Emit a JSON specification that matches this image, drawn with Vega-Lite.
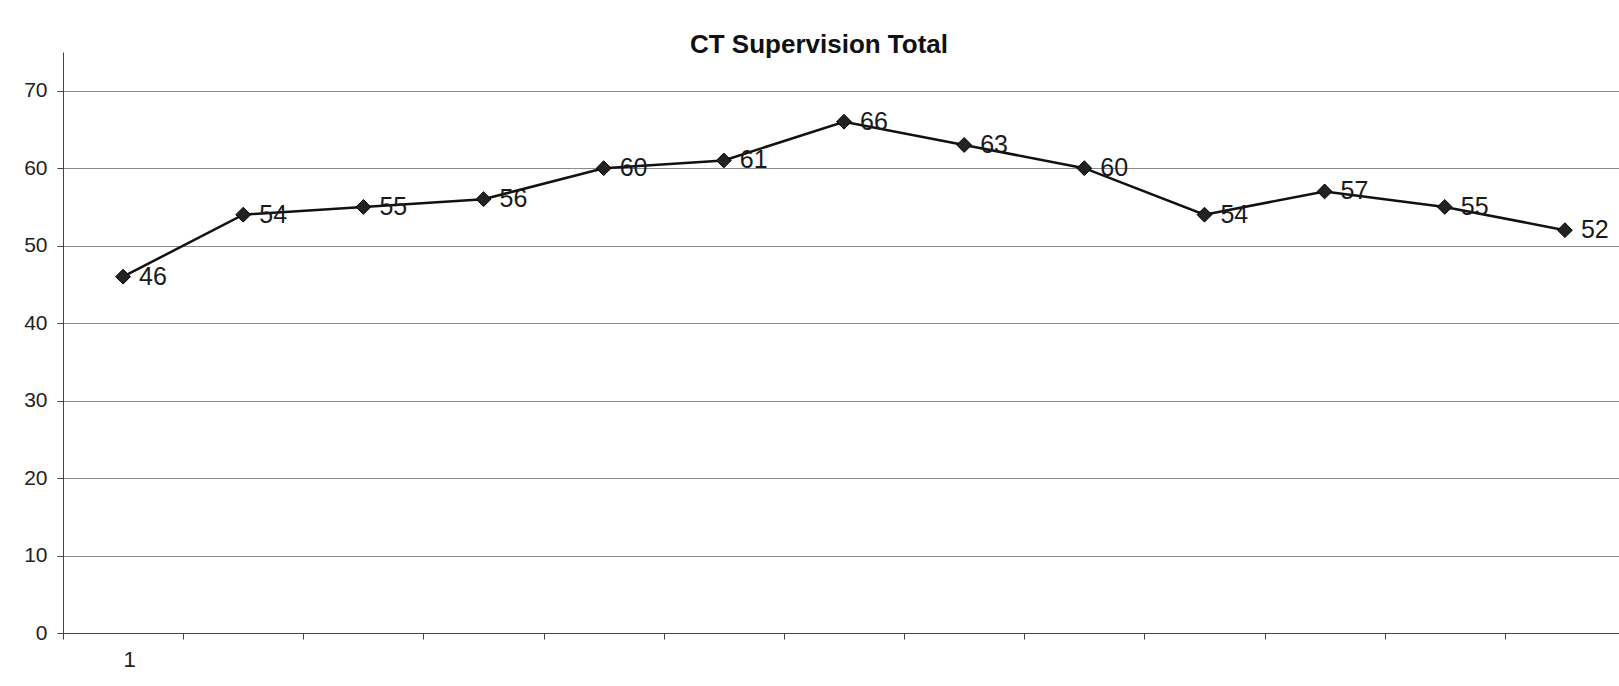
{
  "$schema": "https://vega.github.io/schema/vega-lite/v6.json",
  "width": 1562,
  "height": 581,
  "autosize": "none",
  "padding": {"left": 63, "top": 52, "right": 0, "bottom": 53},
  "background": "white",
  "title": {"text": "CT Supervision Total", "fontSize": 26, "font": "Liberation Sans", "fontWeight": "bold", "color": "#111", "anchor": "middle", "dx": -25, "offset": -6},
  "config": {"view": {"stroke": null}, "font": "Liberation Sans"},
  "data": {"values": [
    {"pt": 1, "value": 46},
    {"pt": 2, "value": 54},
    {"pt": 3, "value": 55},
    {"pt": 4, "value": 56},
    {"pt": 5, "value": 60},
    {"pt": 6, "value": 61},
    {"pt": 7, "value": 66},
    {"pt": 8, "value": 63},
    {"pt": 9, "value": 60},
    {"pt": 10, "value": 54},
    {"pt": 11, "value": 57},
    {"pt": 12, "value": 55},
    {"pt": 13, "value": 52}
  ]},
  "encoding": {
    "x": {"field": "pt", "type": "quantitative",
      "scale": {"domain": [0.5, 13.5], "nice": false, "zero": false},
      "axis": {"values": [0.5,1.5,2.5,3.5,4.5,5.5,6.5,7.5,8.5,9.5,10.5,11.5,12.5,13.5],
        "labelExpr": "datum.value == 0.5 ? '1' : ''", "labelOffset": 60, "grid": false, "title": null,
        "tickSize": 6, "tickColor": "#444", "domainColor": "#444", "labelFontSize": 22, "labelPadding": 10, "labelColor": "#222", "labelFont": "Liberation Sans"}},
    "y": {"field": "value", "type": "quantitative",
      "scale": {"domain": [0, 75], "nice": false},
      "axis": {"values": [0,10,20,30,40,50,60,70], "title": null, "grid": true, "gridColor": "#8a8a8a", "gridWidth": 1,
        "tickSize": 6, "tickColor": "#444", "domainColor": "#444", "labelFontSize": 21, "labelPadding": 10, "labelColor": "#222", "labelFont": "Liberation Sans"}}
  },
  "layer": [
    {"mark": {"type": "line", "color": "#111", "strokeWidth": 2.5}},
    {"mark": {"type": "point", "shape": "diamond", "filled": true, "size": 220, "color": "#222", "stroke": "#000", "strokeWidth": 1, "opacity": 1}},
    {"mark": {"type": "text", "align": "left", "baseline": "middle", "dx": 16, "fontSize": 25, "font": "Liberation Sans", "color": "#1a1a1a"},
      "encoding": {"text": {"field": "value", "type": "quantitative"}}}
  ]
}
